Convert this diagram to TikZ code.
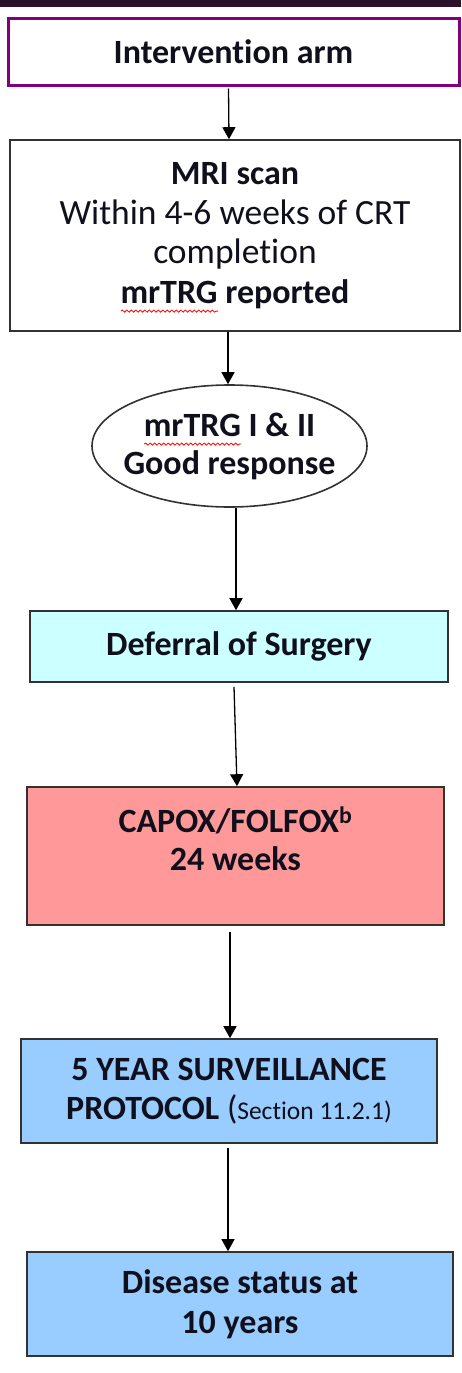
\documentclass[tikz,border=0pt]{standalone}
\usepackage{fontspec}
\setmainfont[Ligatures=NoCommon]{Carlito}
\usetikzlibrary{shapes.geometric,arrows.meta,decorations.pathmorphing}

\definecolor{topbar}{RGB}{42,19,40}
\definecolor{armpurple}{RGB}{128,0,128}
\definecolor{edgegray}{RGB}{50,50,50}
\definecolor{ink}{RGB}{16,16,28}
\definecolor{deferfill}{RGB}{204,255,255}
\definecolor{chemofill}{RGB}{255,153,153}
\definecolor{survfill}{RGB}{153,204,255}

% red spell-check style wavy underline under a word
\newsavebox\wavebox
\newcommand\spellwave[1]{\sbox\wavebox{#1}%
  \rlap{\raisebox{-8pt}[0pt][0pt]{\tikz[x=1pt,y=1pt,baseline=0pt]
    \draw[red, line width=0.8pt, decorate,
      decoration={snake, amplitude=1.1pt, segment length=4.5pt}]
      (0,0) -- (\wd\wavebox,0);}}\usebox\wavebox}

\tikzset{
  box/.style={draw=edgegray, line width=1.6pt, rectangle, inner sep=0pt,
    align=center, text=ink, font=\fontsize{34}{39.5}\selectfont},
  txt/.style={inner sep=0pt, align=center, text=ink, font=\fontsize{34}{38}\selectfont},
  flow/.style={draw=black, line width=1.3pt, -{Triangle[width=13pt,length=12pt]}}
}

\begin{document}
\begin{tikzpicture}[x=1pt,y=-1pt]
\useasboundingbox (0,0) rectangle (461,1373);
\fill[topbar] (0,0) rectangle (461,7);

\node[box, draw=armpurple, line width=3pt, minimum width=451, minimum height=67]
  (arm) at (233.5,51.5) {\bfseries Intervention arm};

\node[box, minimum width=450, minimum height=191] (mri) at (235,235.5)
  {{\bfseries MRI scan}\\{\fontsize{35.5}{39.5}\selectfont Within 4-6 weeks of CRT}\\{\fontsize{35.5}{39.5}\selectfont completion}\\{\bfseries\spellwave{mrTRG} reported}};

\node[box, ellipse, minimum width=275, minimum height=122] (good) at (229.5,446) {};
\node[txt] (goodtext) at (good.center)
  {\bfseries\spellwave{mrTRG} I \& II\\\bfseries Good response};

\node[box, fill=deferfill, minimum width=418, minimum height=71] (defer) at (239,646.5)
  {\bfseries Deferral of Surgery};

\node[box, fill=chemofill, minimum width=417, minimum height=138] (chemo) at (235.5,856) {};
\node[txt] (chemotext) at ([yshift=17pt]chemo.center)
  {\bfseries CAPOX/FOLFOX\textsuperscript{b}\\\bfseries 24 weeks};

\node[box, fill=survfill, minimum width=416, minimum height=104] (surv) at (229,1091)
  {\bfseries 5 YEAR SURVEILLANCE\\\bfseries PROTOCOL {\mdseries(\fontsize{25.5}{25.5}\selectfont Section 11.2.1)}};

\node[box, fill=survfill, minimum width=426, minimum height=104] (status) at (240,1304)
  {\bfseries Disease status at\\\bfseries 10 years};

\draw[flow] ([xshift=-5pt,yshift=-2pt]arm.south) -- ([xshift=-6pt]mri.north);
\draw[flow] ([xshift=-7pt]mri.south) -- ([xshift=-1.5pt]good.north);
\draw[flow] ([xshift=6.5pt]good.south) -- ([xshift=-3pt]defer.north);
\draw[flow] ([xshift=-5pt,yshift=-4pt]defer.south) -- ([xshift=1.5pt]chemo.north);
\draw[flow] ([xshift=-5.5pt,yshift=-6pt]chemo.south) -- ([xshift=1pt]surv.north);
\draw[flow] ([xshift=-1pt,yshift=-4pt]surv.south) -- ([xshift=-12pt]status.north);
\end{tikzpicture}
\end{document}
